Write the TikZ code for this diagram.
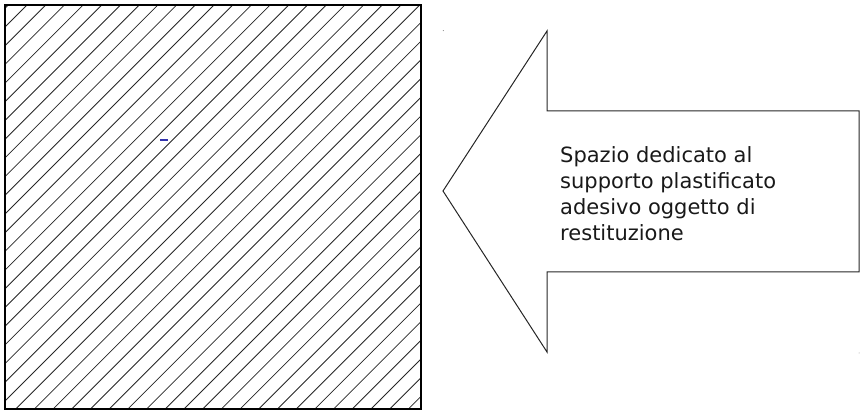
\documentclass[tikz,border=0pt]{standalone}
\usepackage{fontspec}
\setmainfont{DejaVu Sans}
\tikzset{
  frame/.style={draw=black, line width=2pt},
  hatch/.style={draw=black!85, line width=0.8pt},
  bigarrow/.style={draw=black!85, line width=1pt, line join=miter},
  label/.style={align=left, anchor=base west, inner sep=0pt, font=\fontsize{21}{26}\selectfont, text=black!90}
}
\begin{document}
\begin{tikzpicture}[x=1pt, y=-1pt]
\useasboundingbox (0,0) rectangle (860,411);
% hatched rectangle
\begin{scope}
  \clip (5,5) rectangle (421,409);
  \foreach \k in {-2,...,46} {
    \pgfmathsetmacro{\c}{27+18.7*\k}
    \draw[hatch] (\c+10,-5) -- (\c-430,435);
  }
\end{scope}
\draw[frame] (5,5) rectangle (421,409);
% arrow
\draw[bigarrow] (443,191) -- (547,31) -- (547,111) -- (859,111) -- (859,272) -- (547,272) -- (547,352) -- cycle;
\node[label] (txt) at (560,241) {Spazio dedicato al\\supporto plastificato\\adesivo oggetto di\\restituzione};
% small marks
\fill[black!60] (443.3,30.7) circle (0.5);
\fill[black!40] (859,353) circle (0.5);
\fill[blue!60!black!80] (160,139.3) rectangle (168,140.8);
\end{tikzpicture}
\end{document}
